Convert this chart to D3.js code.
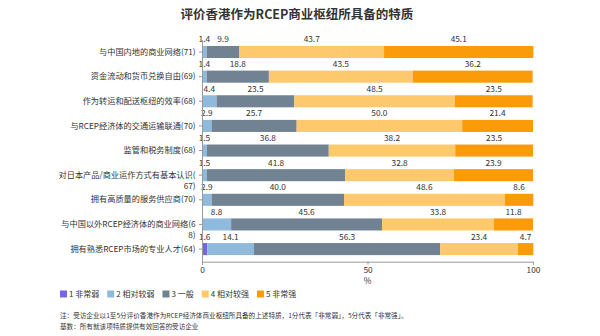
<!DOCTYPE html>
<html>
<head>
<meta charset="utf-8">
<script src="https://cdn.jsdelivr.net/npm/d3@7"></script>
<style>
html,body{margin:0;padding:0;background:#fff;}
text{font-family:"Noto Sans CJK SC","Noto Sans",sans-serif;}
</style>
</head>
<body>
<svg id="chart" width="600" height="336"></svg>
<script>
const title = "评价香港作为RCEP商业枢纽所具备的特质";
const categories = [
  "与中国内地的商业网络(71)",
  "资金流动和货币兑换自由(69)",
  "作为转运和配送枢纽的效率(68)",
  "与RCEP经济体的交通运输联通(70)",
  "监管和税务制度(68)",
  "对日本产品/商业运作方式有基本认识(67)",
  "拥有高质量的服务供应商(70)",
  "与中国以外RCEP经济体的商业网络(68)",
  "拥有熟悉RCEP市场的专业人才(64)"
];
const seriesNames = ["1 非常弱","2 相对较弱","3 一般","4 相对较强","5 非常强"];
const s1 = [0, 0, 0, 0, 0, 0, 0, 0, 1.6];
const s2 = [1.4, 1.4, 4.4, 2.9, 1.5, 1.5, 2.9, 8.8, 14.1];
const s3 = [9.9, 18.8, 23.5, 25.7, 36.8, 41.8, 40.0, 45.6, 56.3];
const s4 = [43.7, 43.5, 48.5, 50.0, 38.2, 32.8, 48.6, 33.8, 23.4];
const s5 = [45.1, 36.2, 23.5, 21.4, 23.5, 23.9, 8.6, 11.8, 4.7];
const xTicks = [0, 50, 100];
const xLabel = "%";
const notes = [
  "注：受访企业以1至5分评价香港作为RCEP经济体商业枢纽所具备的上述特质，1分代表「非常弱」，5分代表「非常强」。",
  "基数：所有就该项特质提供有效回答的受访企业"
];
const colors = ["#7763e6","#8fbadb","#718293","#fec96c","#fb9b0a"];

const series = [s1, s2, s3, s4, s5];
const rows = categories.map((c, i) => {
  const o = {cat: c};
  seriesNames.forEach((n, k) => o[n] = series[k][i]);
  return o;
});
const stack = d3.stack().keys(seriesNames)(rows);

const svg = d3.select("#chart");
const x = d3.scaleLinear().domain([0, 100]).range([202, 533]);
const y = d3.scaleBand().domain(categories).range([39.7, 261.4]).paddingInner(0.51).paddingOuter(0.255);

svg.append("text").attr("x", 297).attr("y", 19).attr("text-anchor", "middle")
  .attr("font-size", 12.5).attr("font-weight", "bold").attr("fill", "#333").text(title);

// bars
const g = svg.append("g");
stack.forEach((layer, k) => {
  g.selectAll(null).data(layer.filter(d => d[1] - d[0] > 0)).enter().append("rect")
    .attr("x", d => x(d[0])).attr("width", d => x(d[1]) - x(d[0]))
    .attr("y", d => y(d.data.cat)).attr("height", y.bandwidth())
    .attr("fill", colors[k]);
  g.selectAll(null).data(layer.filter(d => d[1] - d[0] > 0)).enter().append("text")
    .attr("x", d => x((d[0] + d[1]) / 2))
    .attr("y", d => y(d.data.cat) - 3.5)
    .attr("text-anchor", "middle").attr("font-size", 8.3).attr("fill", "#333")
    .text(d => (d[1] - d[0]).toFixed(1));
});

// x axis
const xa = svg.append("g").attr("transform", `translate(0,${y.range()[1] + 0.3})`)
  .call(d3.axisBottom(x).tickValues(xTicks).tickSize(3).tickPadding(2));
xa.select(".domain").attr("stroke", "#999");
xa.selectAll(".tick line").attr("stroke", "#999");
xa.selectAll(".tick text").attr("font-size", 8.3).attr("fill", "#333")
  .attr("font-family", "'Noto Sans CJK SC','Noto Sans',sans-serif");
svg.append("text").attr("x", (x(0) + x(100)) / 2).attr("y", 284).attr("text-anchor", "middle")
  .attr("font-size", 8.3).attr("fill", "#333").text(xLabel);

// y axis
const ya = svg.append("g").attr("transform", `translate(${x(0)},0)`)
  .call(d3.axisLeft(y).tickSize(3).tickPadding(3.5).tickSizeOuter(0));
ya.select(".domain").attr("stroke", "#999");
ya.selectAll(".tick line").attr("stroke", "#999");
ya.selectAll(".tick text").attr("font-size", 8.2).attr("fill", "#333")
  .attr("font-family", "'Noto Sans CJK SC','Noto Sans',sans-serif")
  .each(function (d) {
    const t = d3.select(this);
    const maxW = 137;
    const xPos = t.attr("x");
    t.text(d);
    if (this.getComputedTextLength() <= maxW) return;
    const chars = Array.from(d);
    let line = "";
    let i = 0;
    t.text("");
    const probe = t.append("tspan").attr("x", xPos);
    for (; i < chars.length; i++) {
      probe.text(line + chars[i]);
      if (probe.node().getComputedTextLength() > maxW) break;
      line += chars[i];
    }
    probe.text(line);
    t.append("tspan").attr("x", xPos).attr("dy", "1.35em").text(chars.slice(i).join(""));
  });

// legend
const lg = svg.append("g").attr("transform", "translate(60,294)");
let lx = 0;
seriesNames.forEach((n, k) => {
  lg.append("rect").attr("x", lx).attr("y", -3.5).attr("width", 7).attr("height", 7).attr("fill", colors[k]);
  const t = lg.append("text").attr("x", lx + 9).attr("y", 3).attr("font-size", 8).attr("fill", "#333").text(n);
  lx += 9 + t.node().getComputedTextLength() + 8;
});

// notes
notes.forEach((n, i) => {
  svg.append("text").attr("x", 60).attr("y", 318 + i * 11).attr("font-size", 6.6).attr("fill", "#333").text(n);
});
</script>
</body>
</html>
